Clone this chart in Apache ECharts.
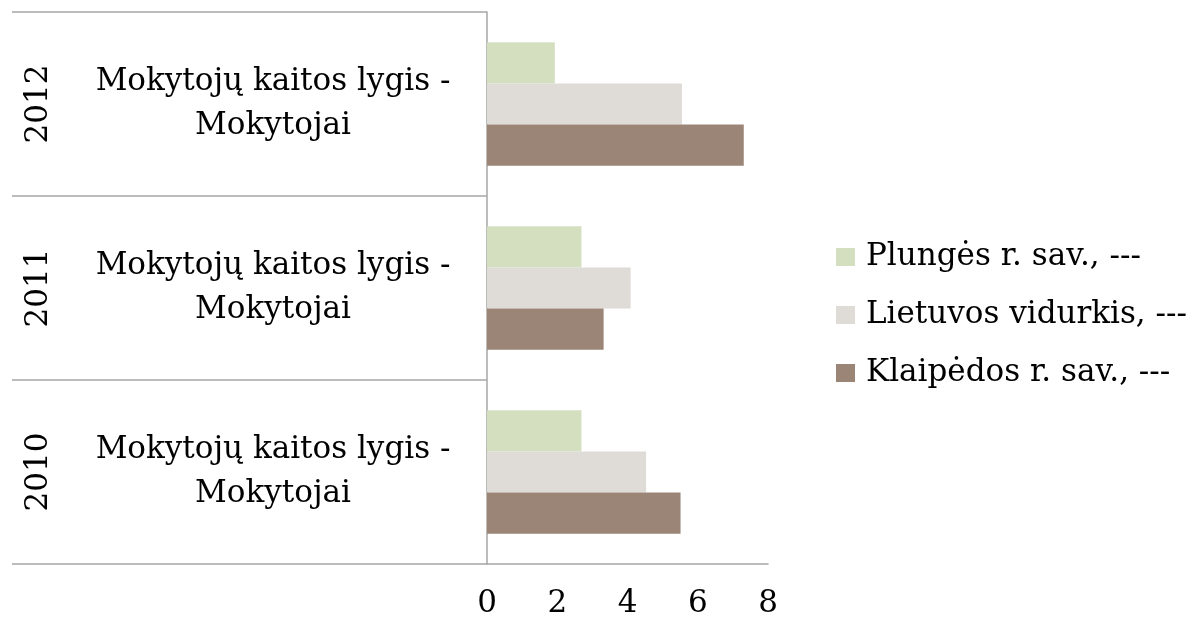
<!DOCTYPE html>
<html>
<head>
<meta charset="utf-8">
<script src="https://cdn.jsdelivr.net/npm/echarts@6/dist/echarts.min.js"></script>
<style>html,body{margin:0;padding:0;background:#fff;}#c{width:1196px;height:626px;}</style>
</head>
<body>
<div id="c"></div>
<script>
var years = ['2010', '2011', '2012'];
var metricLabels = ['Mokytojų kaitos lygis -\nMokytojai', 'Mokytojų kaitos lygis -\nMokytojai', 'Mokytojų kaitos lygis -\nMokytojai'];
var seriesNames = ['Plungės r. sav., ---', 'Lietuvos vidurkis, ---', 'Klaipėdos r. sav., ---'];
var plunges = [2.69, 2.69, 1.93];
var lietuvos = [4.53, 4.09, 5.55];
var klaipedos = [5.51, 3.32, 7.31];
var xTicks = [0, 2, 4, 6, 8];

var FONT = 'DejaVu Serif';
var colors = ['#d3dfbf', '#dfdbd7', '#9b8577'];
var chart = echarts.init(document.getElementById('c'));
var values = [plunges, lietuvos, klaipedos];
chart.setOption({
  animation: false,
  color: colors,
  grid: {left: 487, right: 428, top: 12, bottom: 62, containLabel: false},
  legend: {
    orient: 'vertical', left: 836, top: 237, padding: 0,
    itemWidth: 19, itemHeight: 18, itemGap: 18,
    icon: 'rect',
    data: seriesNames,
    textStyle: {fontFamily: FONT, fontSize: 31, color: '#000', lineHeight: 40, padding: [0, 0, 0, 6]}
  },
  xAxis: {
    type: 'value', min: xTicks[0], max: xTicks[xTicks.length - 1], interval: 2,
    axisLine: {show: true, lineStyle: {color: '#a6a6a6', width: 1.5}},
    axisTick: {show: false},
    splitLine: {show: false},
    axisLabel: {fontFamily: FONT, fontSize: 31, color: '#000', margin: 40, verticalAlign: 'middle'}
  },
  yAxis: [{
    type: 'category', data: years, position: 'left',
    axisLine: {show: true, lineStyle: {color: '#a6a6a6', width: 1.5}},
    axisTick: {show: true, length: 475, lineStyle: {color: '#a6a6a6', width: 1.5}},
    axisLabel: {
      fontFamily: FONT, fontSize: 31, color: '#000', lineHeight: 44,
      align: 'center', verticalAlign: 'middle', margin: 214,
      formatter: function (v, i) { return metricLabels[i]; }
    }
  }, {
    type: 'category', data: years, position: 'left', offset: 0,
    axisLine: {show: false}, axisTick: {show: false},
    axisLabel: {
      fontFamily: FONT, fontSize: 31, color: '#000', rotate: 90,
      align: 'center', verticalAlign: 'middle', margin: 448
    }
  }],
  series: seriesNames.map(function (n, k) {
    return {
      name: n, type: 'bar', yAxisIndex: 0, data: values[k],
      barGap: '0%', barCategoryGap: '33%',
      itemStyle: {color: colors[k]}
    };
  })
});
</script>
</body>
</html>
